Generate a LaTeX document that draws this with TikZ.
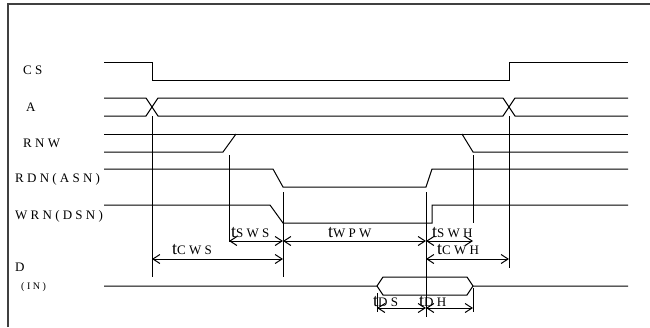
\documentclass[tikz,border=0pt]{standalone}
\usepackage{fontspec}
\setmainfont{Liberation Serif}
\newfontfamily\lblfont[LetterSpace=25]{Liberation Serif}
\usetikzlibrary{arrows.meta}
\tikzset{
  sig/.style={line width=1pt, line join=miter},
  guide/.style={line width=1pt},
  frameline/.style={line width=1.5pt, draw=black!75},
  dim/.style={line width=1pt, {Straight Barb[length=7pt,width=9pt]}-{Straight Barb[length=7pt,width=9pt]}},
  lbl/.style={anchor=base west, inner sep=0pt, font=\lblfont\fontsize{13}{13}\selectfont},
  sml/.style={anchor=base west, inner sep=0pt, font=\lblfont\fontsize{10}{10}\selectfont},
}
\newcommand\tsym{{\fontsize{18}{18}\selectfont t}}
\begin{document}
\begin{tikzpicture}[x=1pt,y=-1pt]
\useasboundingbox (0,0) rectangle (650,327);
\draw[frameline] (8,327) -- (8,4) -- (650,4);

% signal names
\node[lbl] (lcs)  at (23,74)  {CS};
\node[lbl] (la)   at (26,111) {A};
\node[lbl] (lrnw) at (23,147) {RNW};
\node[lbl] (lrdn) at (15,182) {RDN(ASN)};
\node[lbl] (lwrn) at (15,219) {WRN(DSN)};
\node[lbl] (ld)   at (15,271) {D};
\node[sml] (lin)  at (21,289) {(IN)};

% CS
\draw[sig] (104,62) -- (152,62) -- (152,80) -- (509,80) -- (509,62) -- (628,62);
% A
\draw[sig] (104,98) -- (146,98) -- (158,116) -- (503,116) -- (515,98) -- (628,98);
\draw[sig] (104,116) -- (146,116) -- (158,98) -- (503,98) -- (515,116) -- (628,116);
% RNW
\draw[sig] (104,134) -- (628,134);
\draw[sig] (104,152) -- (223,152) -- (236,134);
\draw[sig] (462,134) -- (473,152) -- (628,152);
% RDN(ASN)
\draw[sig] (104,169) -- (273,169) -- (283,187) -- (426,187) -- (432,169) -- (628,169);
% WRN(DSN)
\draw[sig] (104,205) -- (270,205) -- (283,223) -- (432,223) -- (432,205) -- (628,205);
% D
\draw[sig] (104,286) -- (377,286) -- (383,277) -- (467,277) -- (473,286) -- (628,286);
\draw[sig] (377,286) -- (383,295) -- (467,295) -- (473,286);

% guide lines
\draw[guide] (152,116) -- (152,277);
\draw[guide] (509,116) -- (509,268);
\draw[guide] (229,155) -- (229,242);
\draw[guide] (473,155) -- (473,223);
\draw[guide] (283,192) -- (283,277);
\draw[guide] (426,192) -- (426,317);
\draw[guide] (377,293) -- (377,312);
\draw[guide] (473,288) -- (473,312);

% dimension end points
\coordinate (a1) at (229,241);
\coordinate (a2) at (283,241);
\coordinate (a3) at (426,241);
\coordinate (a4) at (473,241);
\coordinate (b1) at (152,259);
\coordinate (b2) at (283,259);
\coordinate (b3) at (426,259);
\coordinate (b4) at (509,259);
\coordinate (c1) at (377,308);
\coordinate (c2) at (426,308);
\coordinate (c3) at (473,308);

\draw[dim] (a1) -- (a2);
\draw[dim] (a2) -- (a3);
\draw[dim] (a3) -- (a4);
\draw[dim] (b1) -- (b2);
\draw[dim] (b3) -- (b4);
\draw[dim] (c1) -- (c2);
\draw[dim] (c2) -- (c3);

% timing labels
\node[lbl] (tsws) at (231,237) {\tsym SWS};
\node[lbl] (twpw) at (328,237) {\tsym WPW};
\node[lbl] (tswh) at (432,237) {\tsym SWH};
\node[lbl] (tcws) at (172,254) {\tsym CWS};
\node[lbl] (tcwh) at (437,254) {\tsym CWH};
\node[lbl] (tds)  at (373,306) {\tsym DS};
\node[lbl] (tdh)  at (419,306) {\tsym DH};
\end{tikzpicture}
\end{document}
